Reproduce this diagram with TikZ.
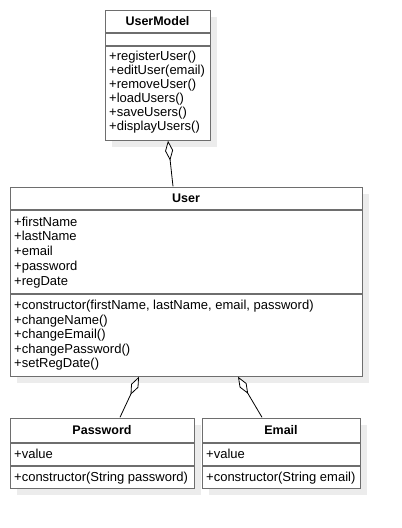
\documentclass[tikz,border=0pt]{standalone}
\usepackage{fontspec}
\setmainfont{Liberation Sans}
\usetikzlibrary{arrows.meta,shadows}
\definecolor{bordc}{RGB}{110,110,110}
\definecolor{shadc}{RGB}{236,236,236}
\tikzset{
 classbox/.style={draw=bordc, line width=1.4pt, fill=white, anchor=north west, inner sep=0pt,
   drop shadow={shadow xshift=6pt, shadow yshift=-6pt, fill=shadc, opacity=1}},
 sepline/.style={draw=bordc, line width=1.4pt},
 ttl/.style={font=\fontsize{12.5}{14}\selectfont\bfseries, inner sep=0pt},
 mem/.style={font=\fontsize{13}{15}\selectfont, anchor=base west, inner sep=0pt},
 agg/.style={draw=black, line width=0.8pt, -{Diamond[length=20pt,width=8pt,fill=white]}},
}
\begin{document}
\begin{tikzpicture}[x=1pt,y=-1pt]
\useasboundingbox (0,0) rectangle (402,528);
% ---------- UserModel ----------
\node[classbox, minimum width=105pt, minimum height=130pt] (um) at (105,10) {};
\draw[sepline] (105,33) -- (210,33);
\draw[sepline] (105,46) -- (210,46);
\node[ttl] (umt) at (157.5,21.5) {UserModel};
\node[mem] (um1) at (109,60) {+registerUser()};
\node[mem] (um2) at (109,74) {+editUser(email)};
\node[mem] (um3) at (109,88) {+removeUser()};
\node[mem] (um4) at (109,102) {+loadUsers()};
\node[mem] (um5) at (109,116) {+saveUsers()};
\node[mem] (um6) at (109,130) {+displayUsers()};
% ---------- User ----------
\node[classbox, minimum width=352pt, minimum height=189pt] (user) at (10,187) {};
\draw[sepline] (10,210) -- (362,210);
\draw[sepline] (10,294) -- (362,294);
\node[ttl] (ut) at (186,198.5) {User};
\node[mem] (ua1) at (14,226) {+firstName};
\node[mem] (ua2) at (14,240.8) {+lastName};
\node[mem] (ua3) at (14,255.6) {+email};
\node[mem] (ua4) at (14,270.4) {+password};
\node[mem] (ua5) at (14,285.2) {+regDate};
\node[mem] (uo1) at (14,309.5) {+constructor(firstName, lastName, email, password)};
\node[mem] (uo2) at (14,324) {+changeName()};
\node[mem] (uo3) at (14,338.5) {+changeEmail()};
\node[mem] (uo4) at (14,353) {+changePassword()};
\node[mem] (uo5) at (14,367.5) {+setRegDate()};
% ---------- Password ----------
\node[classbox, minimum width=184pt, minimum height=70pt] (pw) at (10,418) {};
\draw[sepline] (10,443) -- (194,443);
\draw[sepline] (10,466) -- (194,466);
\node[ttl] (pwt) at (102,430.5) {Password};
\node[mem] (pw1) at (14,458.5) {+value};
\node[mem] (pw2) at (14,481.5) {+constructor(String password)};
% ---------- Email ----------
\node[classbox, minimum width=158pt, minimum height=70pt] (em) at (202,418) {};
\draw[sepline] (202,443) -- (360,443);
\draw[sepline] (202,466) -- (360,466);
\node[ttl] (emt) at (281,430.5) {Email};
\node[mem] (em1) at (206,458.5) {+value};
\node[mem] (em2) at (206,481.5) {+constructor(String email)};
% ---------- connectors ----------
\coordinate (umB) at (168,140.7);
\coordinate (uT) at (173,186.3);
\coordinate (uB1) at (139,376.7);
\coordinate (pT) at (120,417.3);
\coordinate (uB2) at (238,376.7);
\coordinate (eT) at (262,417.3);
\draw[agg] (uT) -- (umB);
\draw[agg] (pT) -- (uB1);
\draw[agg] (eT) -- (uB2);
\end{tikzpicture}
\end{document}
